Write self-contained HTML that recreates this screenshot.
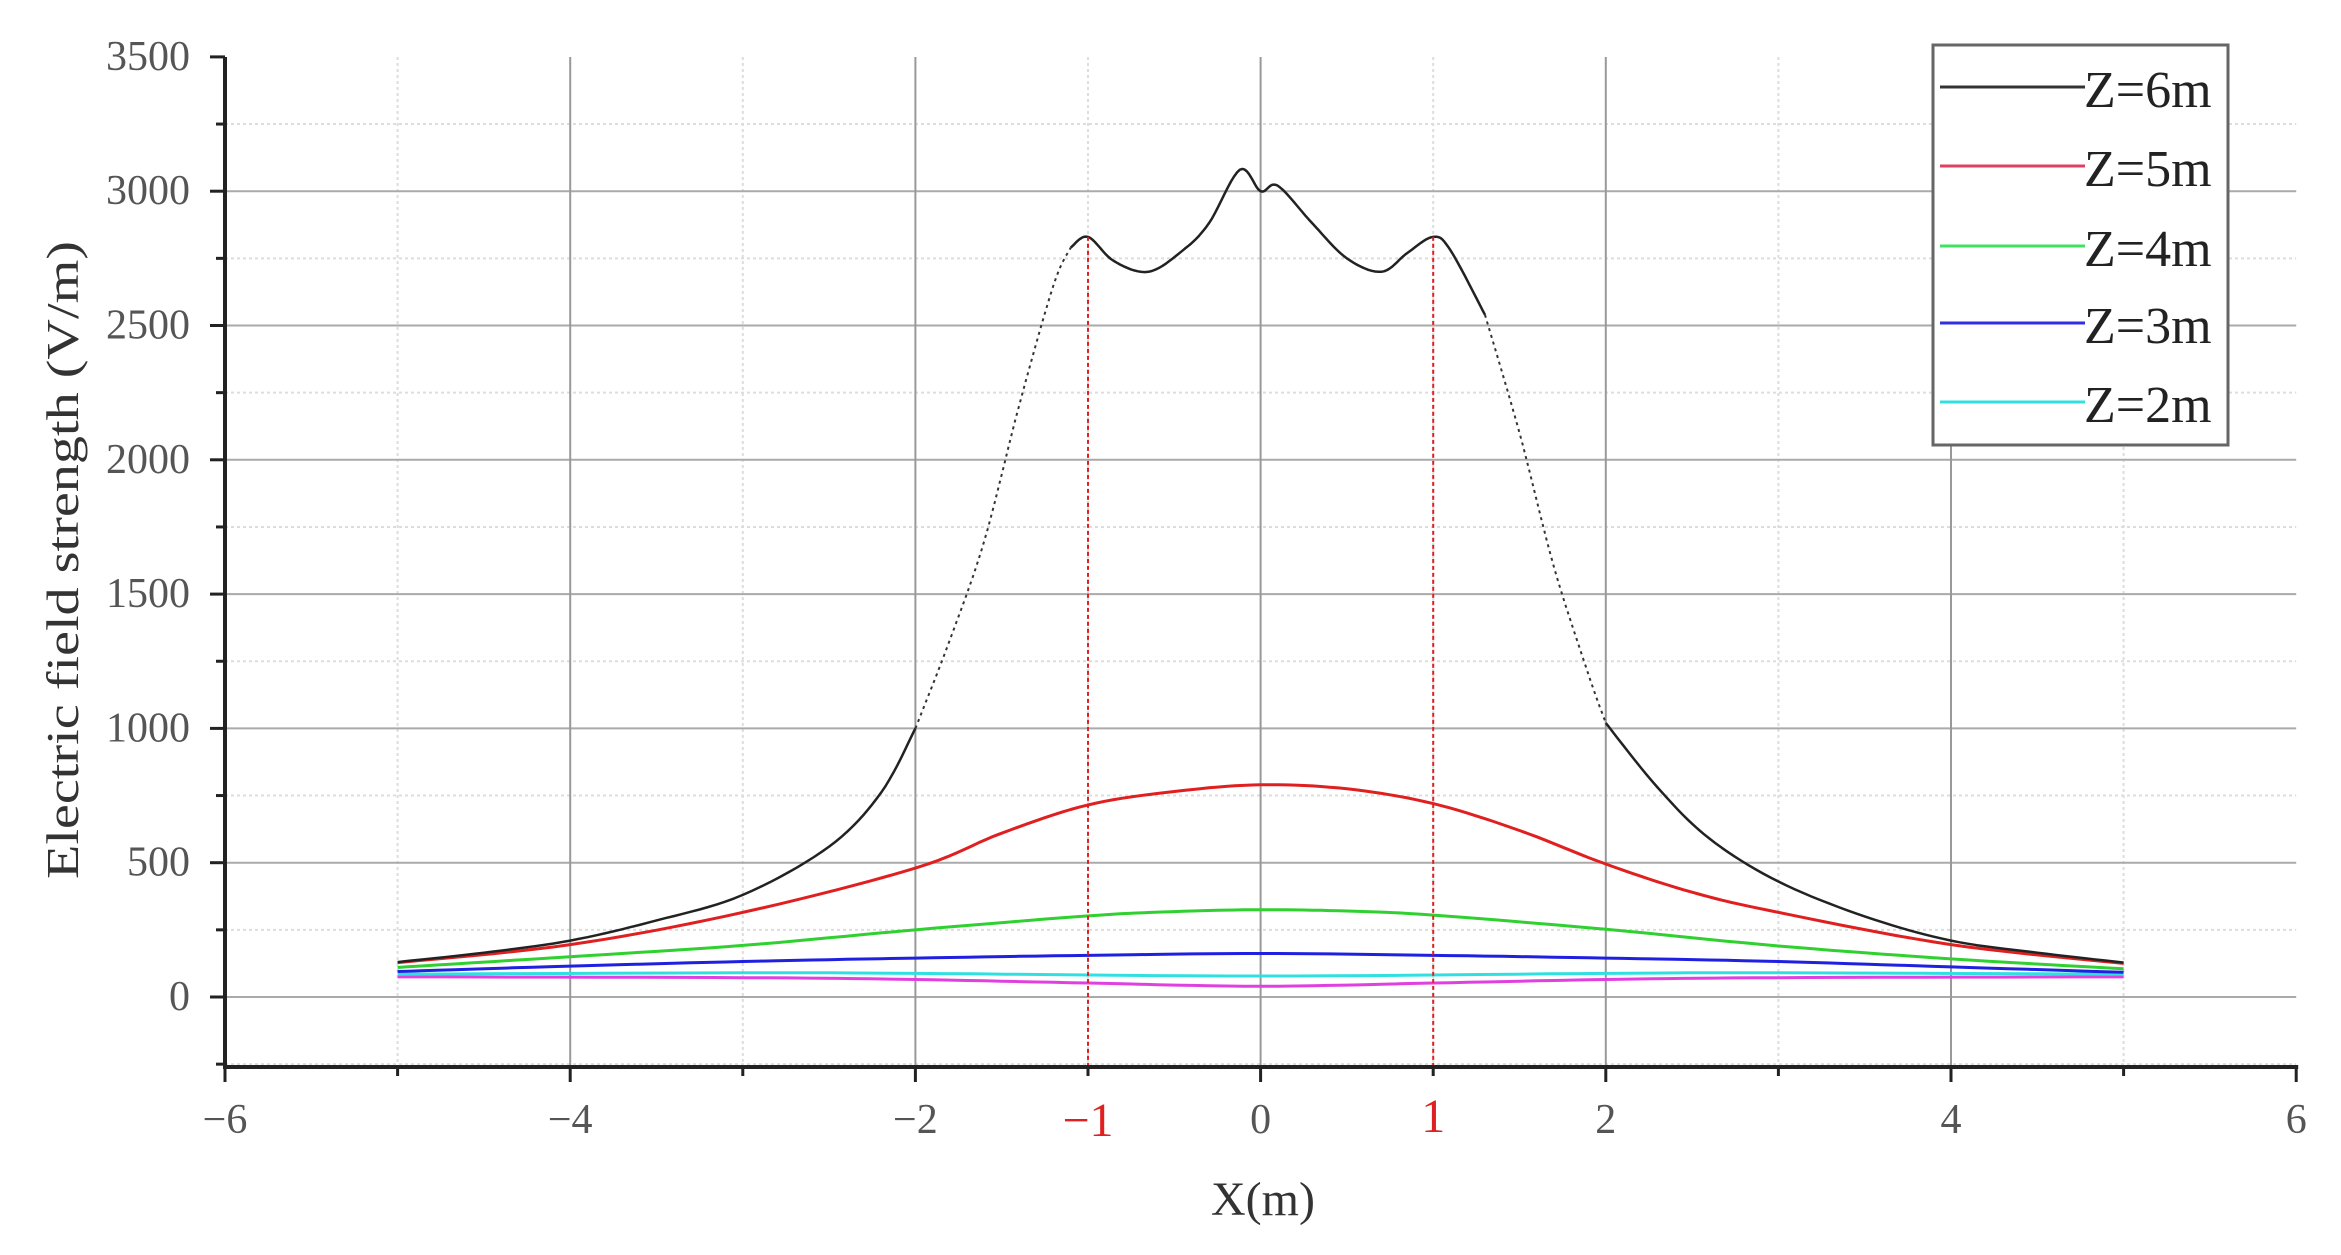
<!DOCTYPE html>
<html><head><meta charset="utf-8"><style>
html,body{margin:0;padding:0;background:#fff;}
svg{display:block;}
text{font-family:"Liberation Serif",serif;}
</style></head><body>
<svg id="s" width="2341" height="1255" viewBox="0 0 2341 1255" xmlns="http://www.w3.org/2000/svg"></svg>
<script>
const s=document.getElementById('s');
const X=v=>225+(v+6)*172.6, Y=v=>997-v*0.2686;
const XR=X(6), YB=1067;
let h='';
for(let v=-250;v<=3250;v+=500){h+=`<line x1="225" x2="${XR}" y1="${Y(v)}" y2="${Y(v)}" stroke="#ddd" stroke-width="2" stroke-dasharray="3,3"/>`;}
for(let v=-5;v<=5;v+=2){h+=`<line x1="${X(v)}" x2="${X(v)}" y1="57" y2="${YB}" stroke="#ddd" stroke-width="2" stroke-dasharray="3,3"/>`;}
for(let v=0;v<=3000;v+=500){h+=`<line x1="225" x2="${XR}" y1="${Y(v)}" y2="${Y(v)}" stroke="#aaa" stroke-width="2"/>`;}
for(let v=-4;v<=4;v+=2){h+=`<line x1="${X(v)}" x2="${X(v)}" y1="57" y2="${YB}" stroke="#999" stroke-width="2"/>`;}
function poly(pts,c,w,da){return `<polyline fill="none" stroke="${c}" stroke-width="${w}" ${da?'stroke-dasharray="'+da+'"':''} stroke-linejoin="round" points="${pts.map(p=>X(p[0]).toFixed(1)+','+Y(p[1]).toFixed(1)).join(' ')}"/>`;}
function smooth(pts){const o=[];for(let i=0;i<pts.length-1;i++){const p0=pts[Math.max(0,i-1)],p1=pts[i],p2=pts[i+1],p3=pts[Math.min(pts.length-1,i+2)];for(let t=0;t<1;t+=0.1){const t2=t*t,t3=t2*t;const f=(a,b,c,d)=>0.5*((2*b)+(-a+c)*t+(2*a-5*b+4*c-d)*t2+(-a+3*b-3*c+d)*t3);o.push([f(p0[0],p1[0],p2[0],p3[0]),f(p0[1],p1[1],p2[1],p3[1])]);}}o.push(pts[pts.length-1]);return o;}
const mag=[[-5,75],[-3,72],[-2,65],[-1,52],[0,40],[1,52],[2,65],[3,72],[5,75]];
const cy=[[-5,85],[-3,90],[-2,88],[0,78],[2,88],[3,90],[5,85]];
const bl=[[-5,95],[-4,115],[-3,132],[-2,145],[-1,155],[0,162],[1,155],[2,145],[3,132],[4,112],[5,92]];
const gr=[[-5,110],[-4,150],[-3,192],[-2,250],[-1,302],[-0.5,318],[0,325],[0.5,320],[1,305],[2,252],[3,190],[4,142],[5,105]];
const rd=[[-5,128],[-4,195],[-3,315],[-2,480],[-1.5,610],[-1,715],[-0.5,765],[0,790],[0.5,775],[1,720],[1.5,620],[2,495],[2.5,390],[3,315],[4,195],[5,125]];
const bkL=[[-5,130],[-4.5,165],[-4,210],[-3.5,285],[-3,380],[-2.5,560],[-2.2,760],[-2,1000]];
const bkLs=[[-2,1000],[-1.8,1330],[-1.6,1700],[-1.4,2200],[-1.2,2650],[-1.1,2790]];
const bkM=[[-1.1,2790],[-1,2830],[-0.85,2740],[-0.65,2700],[-0.45,2780],[-0.3,2880],[-0.12,3080],[0,3000],[0.1,3020],[0.3,2880],[0.5,2750],[0.7,2700],[0.85,2770],[1,2830],[1.1,2780],[1.3,2540]];
const bkRs=[[1.3,2540],[1.5,2100],[1.7,1600],[1.9,1200],[2,1020]];
const bkR=[[2,1020],[2.3,780],[2.6,590],[3,430],[3.5,300],[4,210],[4.5,165],[5,128]];
h+=poly(smooth(mag),'#e040e0',3)+poly(smooth(cy),'#30e0e0',3)+poly(smooth(bl),'#2020e0',3)+poly(smooth(gr),'#30d030',3)+poly(smooth(rd),'#e02020',3);
h+=poly(smooth(bkL),'#222',2.5)+poly(smooth(bkLs),'#333',2,'3,4')+poly(smooth(bkM),'#222',2.5)+poly(smooth(bkRs),'#333',2,'3,4')+poly(smooth(bkR),'#222',2.5);
h+=`<line x1="${X(-1)}" x2="${X(-1)}" y1="${Y(2830)}" y2="${YB}" stroke="#e02020" stroke-width="2" stroke-dasharray="4,3"/>`;
h+=`<line x1="${X(1)}" x2="${X(1)}" y1="${Y(2830)}" y2="${YB}" stroke="#e02020" stroke-width="2" stroke-dasharray="4,3"/>`;
h+=`<line x1="225" x2="225" y1="57" y2="${YB+2}" stroke="#222" stroke-width="4"/><line x1="223" x2="${XR+2}" y1="${YB}" y2="${YB}" stroke="#222" stroke-width="4"/>`;
for(let v=0;v<=3500;v+=500){h+=`<line x1="210" x2="225" y1="${Y(v)}" y2="${Y(v)}" stroke="#222" stroke-width="3"/><text x="190" y="${Y(v)+13}" font-size="42" fill="#555" text-anchor="end">${v}</text>`;}
for(let v=-250;v<=3250;v+=500){h+=`<line x1="216" x2="225" y1="${Y(v)}" y2="${Y(v)}" stroke="#222" stroke-width="3"/>`;}
for(let v=-6;v<=6;v+=2){h+=`<line x1="${X(v)}" x2="${X(v)}" y1="${YB}" y2="${YB+15}" stroke="#222" stroke-width="3"/><text x="${X(v)}" y="1133" font-size="42" fill="#555" text-anchor="middle">${v<0?'\u2212'+(-v):v}</text>`;}
for(let v=-5;v<=5;v+=2){h+=`<line x1="${X(v)}" x2="${X(v)}" y1="${YB}" y2="${YB+9}" stroke="#222" stroke-width="3"/>`;}
h+=`<text x="${X(-1)}" y="1136" font-size="48" fill="#e02020" text-anchor="middle">\u22121</text><text x="${X(1)}" y="1132" font-size="48" fill="#e02020" text-anchor="middle">1</text>`;
h+=`<text x="1263" y="1215" font-size="48" fill="#333" text-anchor="middle">X(m)</text>`;
h+=`<text transform="translate(78,560) rotate(-90)" font-size="46" fill="#333" text-anchor="middle" textLength="638" lengthAdjust="spacingAndGlyphs">Electric field strength (V/m)</text>`;
h+=`<rect x="1933" y="45" width="295" height="400" fill="#fff" stroke="#666" stroke-width="3"/>`;
const lg=[['#333','Z=6m',87],['#e04060','Z=5m',166],['#40e060','Z=4m',246],['#3030e0','Z=3m',323],['#30e0e0','Z=2m',402]];
lg.forEach(l=>{h+=`<line x1="1940" x2="2085" y1="${l[2]}" y2="${l[2]}" stroke="${l[0]}" stroke-width="3"/><text x="2084" y="${l[2]+20}" font-size="52" fill="#222">${l[1]}</text>`;});
s.innerHTML=h;
</script>
</body></html>
